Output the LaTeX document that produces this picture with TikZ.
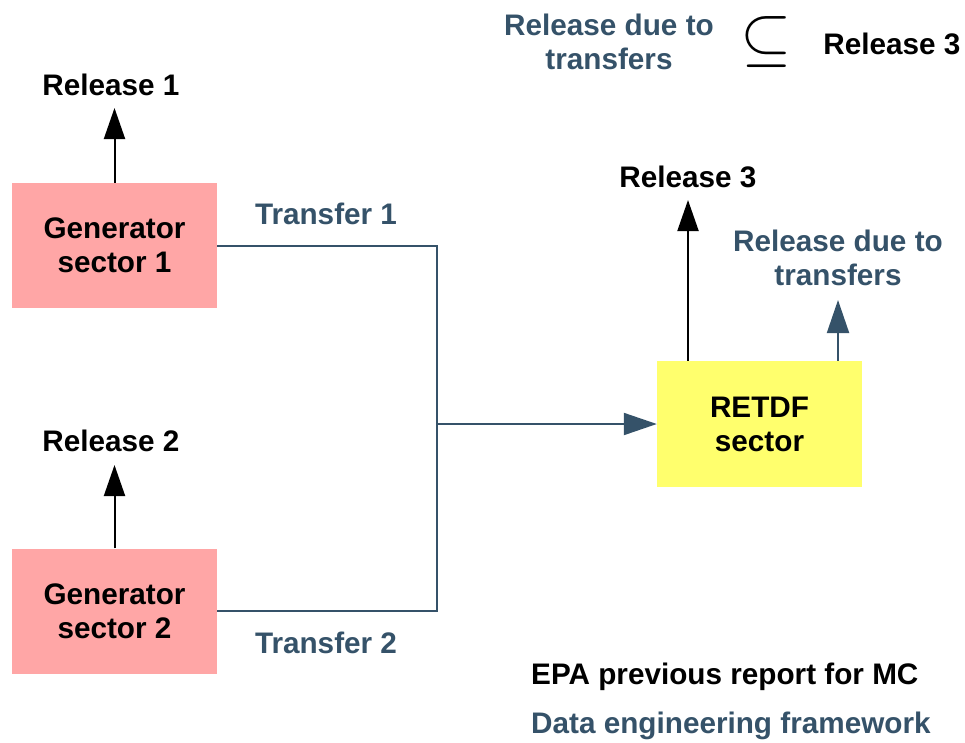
\documentclass[tikz,border=0pt]{standalone}
\usepackage{fontspec}
\setmainfont{Liberation Sans}
\usetikzlibrary{arrows.meta}
\definecolor{slate}{HTML}{355269}
\definecolor{genpink}{HTML}{FFA6A6}
\definecolor{sectyellow}{HTML}{FFFF6D}
\tikzset{
  every node/.style={font=\fontsize{29.7}{34}\selectfont\bfseries, inner sep=0pt, align=center},
  sectorbox/.style={minimum width=205pt, minimum height=125pt},
  flowblack/.style={line width=2pt, black, -{Triangle[length=31pt, width=21pt]}},
  flowslate/.style={line width=2pt, slate, -{Triangle[length=33pt, width=22pt]}},
  wire/.style={line width=2pt, slate},
  bluetext/.style={text=slate},
}
\begin{document}
\begin{tikzpicture}[x=1pt, y=-1pt]
\useasboundingbox (0,0) rectangle (965,742);

% sector boxes
\node[sectorbox, fill=genpink] (g1) at (114.5,245.5) {Generator\\sector 1};
\node[sectorbox, fill=genpink] (g2) at (114.5,611) {Generator\\sector 2};
\node[sectorbox, fill=sectyellow, minimum height=126pt] (rt) at (759.5,424) {RETDF\\sector};

% release labels
\node (r1) at (111,85) {Release 1};
\node (r2) at (111,441) {Release 2};
\node (r3) at (688,177) {Release 3};
\node[bluetext] (rdt) at (838,258) {Release due to\\transfers};

% transfer labels
\node[bluetext] (t1) at (326,214) {Transfer 1};
\node[bluetext] (t2) at (326,643) {Transfer 2};

% arrow tips of the release arrows
\coordinate (r1tip) at (114.5,108);
\coordinate (r2tip) at (114.5,465);
\coordinate (r3tip) at (688,200);
\coordinate (rdttip) at (838,300);
\coordinate (join) at (437,424);

\draw[flowblack] (g1.north) -- (r1tip);
\draw[flowblack] (g2.north) -- (r2tip);
\draw[flowblack] (r3tip |- rt.north) -- (r3tip);
\draw[flowslate] (rdttip |- rt.north) -- (rdttip);

% transfers merging into the RETDF sector
\draw[wire] (g1.east) -| (join) |- (g2.east);
\draw[flowslate] (join) -- (rt.west);

% relation between the two releases
\node[bluetext] (relA) at (609,42) {Release due to\\transfers};
\node[font=\normalsize] (subs) at (766,42) {\scalebox{6.6}{$\subseteq$}};
\node (relB) at (892,44) {Release 3};

% legend
\node[anchor=west] (leg1) at (531,677) {EPA previous report for MC};
\node[anchor=west, bluetext] (leg2) at (531,726) {Data engineering framework};
\end{tikzpicture}
\end{document}
